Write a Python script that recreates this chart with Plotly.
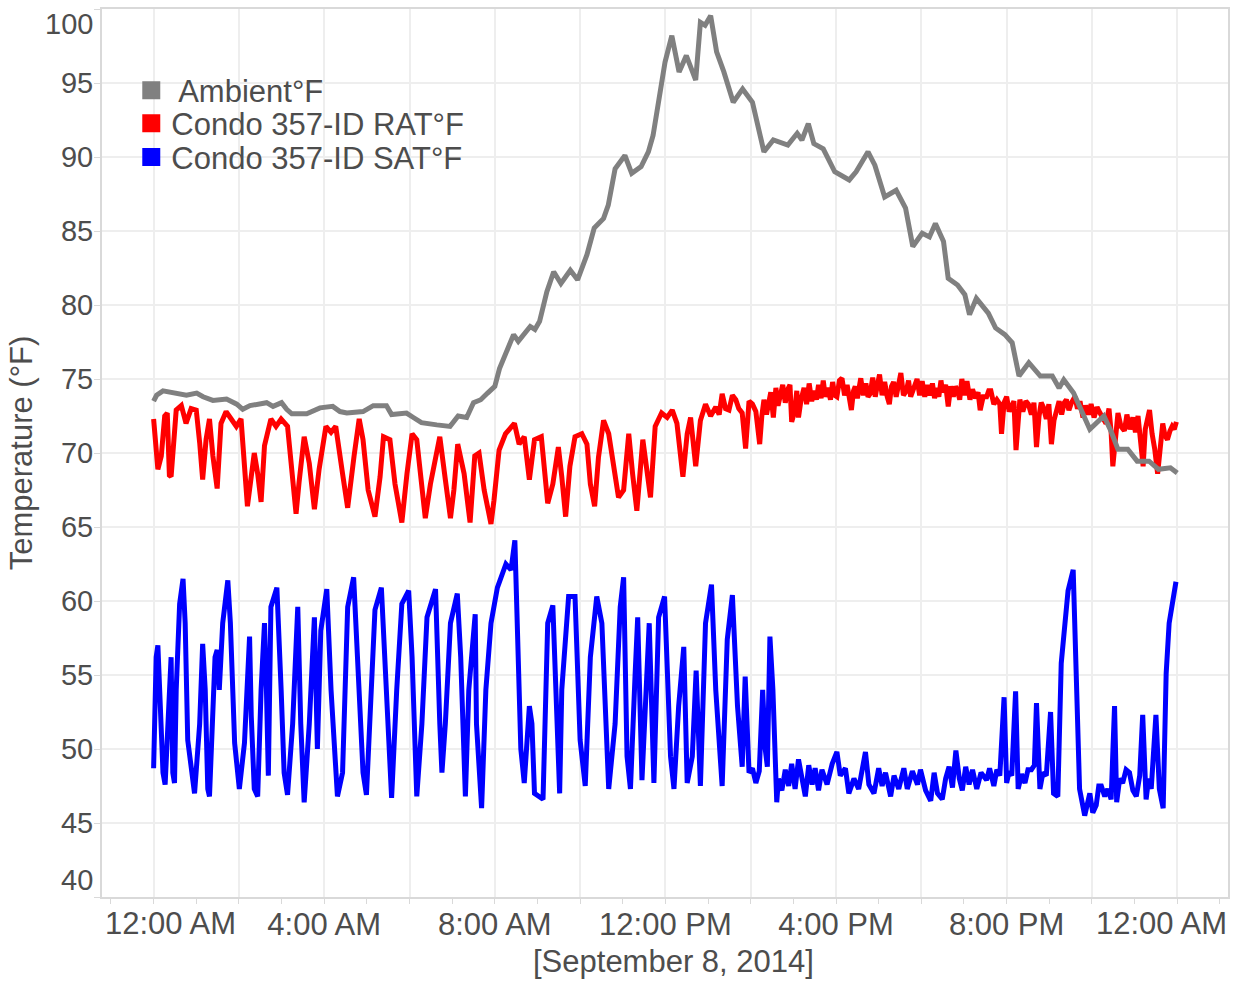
import pandas as pd
import plotly.graph_objects as go

# ---- Ambient temperature (hours after midnight, °F) ----
AMB_H = [0.0, 0.07, 0.22, 0.42, 0.57, 0.77, 1.01, 1.16, 1.39, 1.71, 1.95, 2.09, 2.26, 2.65, 2.8, 3.0,
         3.12, 3.24, 3.59, 3.9, 4.2, 4.37, 4.53, 4.91, 5.15, 5.46, 5.58, 5.93, 6.09, 6.28, 6.64, 6.95,
         7.14, 7.34, 7.5, 7.67, 7.83, 8.0, 8.11, 8.28, 8.44, 8.55, 8.83, 8.94, 9.05, 9.22, 9.38, 9.55,
         9.77, 9.94, 10.16, 10.33, 10.55, 10.66, 10.82, 11.05, 11.21, 11.43, 11.6, 11.71, 11.88, 11.99,
         12.15, 12.32, 12.49, 12.71, 12.82, 12.93, 13.06, 13.2, 13.37, 13.59, 13.81, 14.04, 14.31, 14.53,
         14.87, 15.09, 15.2, 15.35, 15.48, 15.7, 15.97, 16.31, 16.47, 16.75, 16.91, 17.14, 17.41, 17.63,
         17.8, 18.02, 18.19, 18.33, 18.52, 18.63, 18.85, 19.02, 19.13, 19.29, 19.57, 19.74, 19.96, 20.13,
         20.29, 20.52, 20.79, 21.07, 21.23, 21.34, 21.57, 21.79, 21.95, 22.28, 22.45, 22.61, 22.84, 23.06,
         23.34, 23.56, 23.84, 24.0]
AMB_V = [73.5, 73.9, 74.2, 74.1, 74.0, 73.9, 74.05, 73.8, 73.55, 73.65, 73.3, 72.95, 73.2, 73.4, 73.15, 73.4,
         72.95, 72.65, 72.65, 73.05, 73.15, 72.8, 72.7, 72.8, 73.2, 73.2, 72.6, 72.7, 72.4, 72.05, 71.9, 71.8,
         72.5, 72.4, 73.4, 73.6, 74.05, 74.5, 75.7, 76.9, 78.0, 77.55, 78.55, 78.35, 78.9, 80.9, 82.25, 81.45,
         82.35, 81.7, 83.4, 85.2, 85.85, 86.75, 89.2, 90.1, 88.9, 89.35, 90.35, 91.45, 94.2, 96.4,
         98.2, 95.75, 96.85, 95.2, 99.1, 98.9, 99.55, 97.1, 95.75, 93.7, 94.6, 93.7, 90.35, 91.15,
         90.8, 91.6, 91.15, 92.25, 90.9, 90.55, 89.0, 88.45, 89.0, 90.35, 89.45, 87.3, 87.75, 86.55,
         83.95, 84.85, 84.6, 85.5, 84.3, 81.8, 81.35, 80.7, 79.35, 80.45, 79.45, 78.45, 78.0, 77.45,
         75.2, 76.1, 75.2, 75.2, 74.4, 74.95, 74.05, 72.6, 71.6, 72.5, 71.45, 70.25, 70.25, 69.45,
         69.45, 68.9, 69.0, 68.65]

# ---- Return air temperature ----
RAT_H = [0.0, 0.06, 0.1, 0.18, 0.26, 0.32, 0.37, 0.41, 0.53, 0.65, 0.76, 0.88, 1.0, 1.08, 1.15, 1.23,
         1.31, 1.39, 1.49, 1.58, 1.7, 1.82, 1.94, 2.05, 2.13, 2.2, 2.28, 2.36, 2.44, 2.52, 2.6, 2.75,
         2.87, 2.99, 3.14, 3.26, 3.34, 3.41, 3.53, 3.65, 3.77, 3.88, 4.04, 4.16, 4.27, 4.43, 4.55, 4.7,
         4.82, 4.91, 5.03, 5.19, 5.31, 5.39, 5.54, 5.66, 5.82, 5.94, 6.06, 6.17, 6.29, 6.37, 6.49, 6.61,
         6.71, 6.84, 6.96, 7.04, 7.13, 7.28, 7.42, 7.53, 7.63, 7.75, 7.91, 7.98, 8.1, 8.25, 8.46, 8.57,
         8.69, 8.81, 8.93, 9.09, 9.24, 9.36, 9.49, 9.57, 9.66, 9.76, 9.88, 10.04, 10.16, 10.24, 10.34,
         10.43, 10.55, 10.67, 10.78, 10.9, 11.02, 11.14, 11.23, 11.33, 11.47, 11.57, 11.65, 11.76, 11.91,
         12.04, 12.16, 12.27, 12.41, 12.51, 12.59, 12.71, 12.82, 12.94, 13.06, 13.18, 13.26, 13.33, 13.41,
         13.49, 13.57, 13.65, 13.72, 13.8, 13.88, 13.96, 14.04, 14.12, 14.21, 14.26, 14.31, 14.37, 14.41,
         14.47, 14.53, 14.59, 14.64, 14.69, 14.75, 14.81, 14.87, 14.92, 14.96, 15.03, 15.08, 15.12, 15.18,
         15.25, 15.31, 15.37, 15.43, 15.49, 15.54, 15.59, 15.65, 15.7, 15.75, 15.81, 15.87, 15.92, 15.97,
         16.02, 16.08, 16.14, 16.2, 16.26, 16.31, 16.36, 16.41, 16.45, 16.5, 16.58, 16.64, 16.7, 16.75,
         16.8, 16.86, 16.92, 16.97, 17.02, 17.08, 17.14, 17.2, 17.25, 17.3, 17.35, 17.41, 17.47, 17.52,
         17.58, 17.65, 17.7, 17.75, 17.8, 17.85, 17.9, 17.96, 18.02, 18.08, 18.14, 18.2, 18.26, 18.31,
         18.35, 18.41, 18.46, 18.5, 18.57, 18.63, 18.69, 18.75, 18.8, 18.85, 18.9, 18.95, 19.01, 19.07,
         19.14, 19.2, 19.27, 19.33, 19.38, 19.45, 19.53, 19.58, 19.63, 19.7, 19.77, 19.84, 19.88, 19.94,
         20.0, 20.06, 20.12, 20.17, 20.22, 20.27, 20.31, 20.38, 20.45, 20.51, 20.58, 20.64, 20.7, 20.76,
         20.81, 20.86, 20.93, 20.99, 21.05, 21.11, 21.17, 21.23, 21.29, 21.35, 21.4, 21.46, 21.52, 21.6,
         21.66, 21.72, 21.79, 21.85, 21.92, 21.98, 22.05, 22.12, 22.19, 22.26, 22.33, 22.4, 22.45, 22.49,
         22.55, 22.61, 22.68, 22.76, 22.82, 22.89, 22.96, 23.02, 23.08, 23.11, 23.16, 23.2, 23.25, 23.3,
         23.35, 23.41, 23.47, 23.54, 23.6, 23.66, 23.71, 23.77, 23.83, 23.88, 23.93, 23.98]
RAT_V = [72.3, 69.8, 68.9, 69.8, 72.5, 72.7, 68.5, 68.4, 72.9, 73.2, 72.0, 73.0, 72.9, 70.7, 68.2, 70.9,
         72.3, 69.8, 67.6, 72.0, 72.8, 72.3, 71.8, 72.3, 68.6, 66.4, 68.2, 70.0, 68.6, 66.7, 70.5, 72.3,
         71.8, 72.3, 71.8, 68.6, 65.9, 68.0, 71.1, 69.3, 66.2, 68.9, 71.8, 71.4, 71.8, 68.6, 66.3, 69.8,
         72.3, 70.9, 67.5, 65.7, 68.4, 71.1, 70.9, 67.9, 65.3, 68.6, 71.3, 70.9, 67.3, 65.6, 67.9, 69.7,
         71.1, 68.2, 65.6, 67.5, 70.6, 68.6, 65.3, 69.8, 70.0, 67.5, 65.2, 66.8, 70.2, 71.3, 72.0, 70.6,
         71.1, 68.2, 70.9, 71.1, 66.6, 67.9, 70.4, 68.4, 65.7, 69.1, 71.1, 71.3, 70.6, 67.9, 66.4,
         69.7, 72.2, 71.3, 69.1, 67.0, 67.5, 71.3, 68.6, 66.1, 70.9, 68.8, 67.0, 71.8, 72.7,
         72.4, 72.9, 72.0, 68.4, 71.3, 72.4, 69.1, 72.2, 73.3, 72.5, 73.1, 72.6, 74.0, 73.0,
         72.9, 73.9, 73.6, 73.0, 72.7, 70.3, 73.5, 73.3, 72.8, 70.6, 72.5, 73.6, 72.6, 73.3,
         74.1, 72.4, 74.4, 73.2, 73.8, 74.6, 73.4, 74.3, 74.6, 72.1, 72.8, 74.2, 72.4, 73.6,
         74.4, 73.3, 74.7, 73.5, 74.2, 73.6, 74.6, 73.7, 74.9, 73.8, 74.4, 73.6, 74.8, 73.9,
         73.8, 74.9, 75.05, 73.9, 74.6, 73.6, 72.9, 74.2, 74.5, 73.7, 75.05, 73.9, 74.7, 73.8,
         74.0, 75.1, 73.8, 74.6, 75.3, 73.9, 74.8, 73.8, 73.3, 74.5, 74.8, 73.8, 74.9, 75.4,
         73.9, 74.2, 74.9, 73.8, 74.2, 74.7, 75.0, 73.9, 74.85, 73.8, 74.6, 73.9, 74.7, 73.7,
         74.4, 73.8, 74.9, 74.1, 74.6, 73.15, 74.5, 73.8, 74.5, 74.2, 73.6, 75.0, 73.9, 74.85,
         73.6, 74.3, 73.7, 74.1, 72.9, 73.8, 73.8, 74.2, 74.2, 73.3, 73.6, 73.3, 71.3, 73.4,
         73.8, 72.8, 73.1, 73.5, 70.2, 72.6, 73.6, 72.8, 73.5, 73.3, 72.6, 73.4, 70.4, 72.5,
         73.4, 73.1, 72.3, 73.3, 70.6, 72.2, 72.9, 73.5, 72.6, 73.4, 73.6, 72.9, 73.4, 73.8,
         73.0, 73.5, 72.4, 73.2, 72.6, 73.3, 72.4, 73.1, 72.7, 72.4, 72.0, 73.0, 71.4, 69.1,
         71.3, 72.7, 71.8, 71.5, 72.6, 71.6, 72.4, 71.4, 72.5, 71.8, 70.2, 69.1, 71.6, 72.4,
         72.9, 71.3, 70.3, 68.6, 70.8, 72.0, 71.2, 70.9, 71.5, 71.8, 71.6, 72.1]

# ---- Supply air temperature ----
SAT_H = [0.0, 0.06, 0.1, 0.16, 0.22, 0.27, 0.33, 0.37, 0.41, 0.45, 0.49, 0.53, 0.61, 0.69, 0.74, 0.8,
         0.96, 1.08, 1.15, 1.21, 1.27, 1.31, 1.39, 1.44, 1.49, 1.54, 1.62, 1.74, 1.8, 1.9, 2.01, 2.13,
         2.25, 2.29, 2.36, 2.44, 2.52, 2.6, 2.64, 2.69, 2.75, 2.89, 2.99, 3.06, 3.14, 3.26, 3.38, 3.45,
         3.53, 3.65, 3.77, 3.84, 3.92, 4.06, 4.16, 4.31, 4.43, 4.55, 4.69, 4.8, 4.91, 4.99, 5.07, 5.19,
         5.34, 5.43, 5.54, 5.58, 5.7, 5.82, 5.98, 6.06, 6.17, 6.29, 6.41, 6.61, 6.71, 6.76, 6.84, 6.96,
         7.12, 7.2, 7.31, 7.39, 7.54, 7.57, 7.69, 7.79, 7.91, 8.06, 8.26, 8.38, 8.47, 8.54, 8.61, 8.69,
         8.81, 8.87, 8.93, 9.13, 9.24, 9.36, 9.52, 9.57, 9.73, 9.88, 10.0, 10.12, 10.24, 10.39, 10.51,
         10.67, 10.82, 10.94, 11.02, 11.1, 11.18, 11.29, 11.35, 11.45, 11.55, 11.62, 11.73, 11.84, 11.98,
         12.12, 12.2, 12.31, 12.43, 12.51, 12.63, 12.72, 12.82, 12.94, 13.08, 13.18, 13.33, 13.45, 13.57,
         13.69, 13.8, 13.87, 13.96, 14.04, 14.12, 14.2, 14.28, 14.34, 14.39, 14.45, 14.52, 14.57, 14.61,
         14.65, 14.73, 14.81, 14.89, 14.96, 15.04, 15.12, 15.2, 15.28, 15.36, 15.44, 15.51, 15.59, 15.67,
         15.79, 15.91, 16.02, 16.1, 16.22, 16.3, 16.42, 16.53, 16.61, 16.69, 16.77, 16.89, 17.0, 17.08,
         17.16, 17.28, 17.36, 17.47, 17.59, 17.67, 17.79, 17.91, 17.98, 18.1, 18.22, 18.3, 18.38, 18.49,
         18.57, 18.65, 18.73, 18.81, 18.89, 18.96, 19.04, 19.12, 19.2, 19.3, 19.4, 19.53, 19.6, 19.7,
         19.77, 19.84, 19.94, 20.0, 20.06, 20.12, 20.21, 20.27, 20.35, 20.43, 20.5, 20.58, 20.65, 20.7,
         20.78, 20.85, 20.93, 21.03, 21.1, 21.2, 21.28, 21.36, 21.44, 21.56, 21.63, 21.71, 21.83, 21.9,
         21.95, 22.02, 22.1, 22.16, 22.22, 22.3, 22.37, 22.45, 22.53, 22.58, 22.65, 22.72, 22.8, 22.88,
         22.96, 23.04, 23.12, 23.19, 23.27, 23.33, 23.39, 23.5, 23.58, 23.67, 23.74, 23.81, 23.97]
SAT_V = [48.7, 56.2, 57.0, 51.7, 48.4, 47.6, 51.7, 54.9, 56.2, 48.4, 47.7, 54.0, 59.8, 61.5, 58.5, 50.6,
         47.0, 51.7, 57.1, 54.0, 47.3, 46.8, 52.9, 56.2, 56.7, 54.0, 58.5, 61.4, 58.5, 50.4, 47.3, 50.4,
         57.6, 52.2, 47.3, 46.8, 54.0, 58.5, 54.7, 48.2, 59.6, 60.9, 54.0, 48.4, 46.9, 51.7, 59.6, 51.7,
         46.4, 51.7, 58.9, 50.0, 58.0, 60.8, 54.0, 46.8, 48.4, 59.6, 61.6, 54.0, 48.4, 46.9, 51.7, 59.4,
         60.9, 55.1, 48.4, 46.7, 54.0, 59.8, 60.7, 56.2, 46.8, 51.7, 58.9, 60.8, 51.7, 48.4, 51.7, 58.5,
         60.5, 56.2, 46.8, 54.0, 59.1, 51.7, 46.0, 54.0, 58.5, 60.9, 62.5, 62.1, 64.1, 56.2, 50.0, 47.7,
         52.9, 51.7, 47.0, 46.6, 58.5, 59.7, 47.0, 54.0, 60.3, 60.3, 50.6, 47.5, 56.2, 60.3, 58.5,
         47.3, 51.7, 59.6, 61.6, 49.5, 47.3, 55.1, 58.9, 47.9, 54.0, 58.5, 47.7, 58.9, 60.3,
         49.5, 47.3, 52.9, 56.9, 47.7, 49.5, 55.3, 47.5, 58.5, 61.1, 54.0, 47.5, 57.4, 60.4,
         52.9, 48.8, 54.9, 48.4, 48.7, 47.7, 48.5, 54.0, 50.0, 48.8, 57.6, 54.0, 48.4, 46.4,
         48.0, 47.2, 48.6, 47.5, 49.0, 47.3, 49.3, 47.8, 46.8, 48.9, 47.6, 48.7, 47.2, 48.6,
         47.6, 49.0, 49.8, 48.2, 48.7, 47.0, 48.0, 47.3, 48.5, 49.8, 47.6, 47.0, 48.7, 47.5,
         48.4, 46.8, 48.2, 47.3, 48.7, 47.3, 48.5, 47.6, 48.6, 47.2, 46.5, 48.4, 47.0, 46.6,
         48.0, 48.8, 47.4, 49.9, 48.0, 47.2, 48.8, 47.6, 48.6, 47.3, 48.4, 47.9, 48.7, 47.5,
         48.6, 48.2, 53.5, 47.7, 48.5, 48.2, 53.9, 47.3, 48.3, 47.7, 48.6, 48.6, 48.9, 53.1,
         47.3, 48.4, 48.2, 52.5, 47.0, 46.8, 55.8, 58.5, 60.7, 62.1, 54.0, 47.3, 45.5, 46.5,
         47.0, 45.7, 46.2, 47.5, 47.5, 46.8, 47.3, 46.6, 52.9, 46.4, 48.0, 47.7, 48.6, 48.4,
         47.2, 46.8, 48.2, 52.3, 46.6, 48.0, 47.3, 52.3, 47.3, 46.0, 55.1, 58.5, 61.3]

DAY = pd.Timestamp("2014-09-08")
Y_TICKS = [40, 45, 50, 55, 60, 65, 70, 75, 80, 85, 90, 95, 100]
X_TICK_HOURS = [0, 2, 4, 6, 8, 10, 12, 14, 16, 18, 20, 22, 24]
X_TICK_TEXT = ["", "", "4:00 AM", "", "8:00 AM", "", "12:00 PM", "", "4:00 PM", "", "8:00 PM", "", ""]


def to_time(hours):
    return DAY + pd.to_timedelta(pd.Series(hours, dtype=float), unit="h")


FONT = "Liberation Sans, Arial, sans-serif"
TEXT = "#4d4d4d"
GRID = "#eeeeee"
AXIS = "#d9d9d9"

# (legend name, hours, values, colour, legend id, legend row centre in paper y)
SERIES = [
    ("Condo 357-ID SAT°F", SAT_H, SAT_V, "#0000ff", "legend3", 0.8328),
    ("Condo 357-ID RAT°F", RAT_H, RAT_V, "#ff0000", "legend2", 0.8710),
    (" Ambient°F", AMB_H, AMB_V, "#808080", "legend", 0.9081),
]

fig = go.Figure()
for name, h, v, color, _, _ in SERIES:
    fig.add_trace(go.Scatter(x=to_time(h), y=v, mode="lines", name=name, showlegend=False,
                             line=dict(color=color, width=5)))

legend_layout = {}
for name, _, _, color, leg, ypos in SERIES:
    fig.add_trace(go.Scatter(x=[None], y=[None], mode="markers", name=name, showlegend=True,
                             legend=leg,
                             marker=dict(symbol="square", size=16, color=color,
                                         line=dict(color=color, width=2))))
    legend_layout[leg] = dict(x=0.026, y=ypos, xanchor="left", yanchor="middle",
                              bgcolor="rgba(0,0,0,0)", itemsizing="trace",
                              font=dict(family=FONT, size=31, color=TEXT))

text_labels = [
    dict(x=to_time([0])[0], y=0, xref="x", yref="paper", text="12:00 AM", xshift=17, yshift=-26,
         xanchor="center", yanchor="middle", font=dict(family=FONT, size=31, color=TEXT)),
    dict(x=to_time([24])[0], y=0, xref="x", yref="paper", text="12:00 AM", xshift=-16, yshift=-26,
         xanchor="center", yanchor="middle", font=dict(family=FONT, size=31, color=TEXT)),
    dict(x=0, y=100, xref="paper", yref="y", text="100", xshift=-7, yshift=-15,
         xanchor="right", yanchor="middle", font=dict(family=FONT, size=29, color=TEXT)),
    dict(x=0, y=40, xref="paper", yref="y", text="40", xshift=-7, yshift=17,
         xanchor="right", yanchor="middle", font=dict(family=FONT, size=29, color=TEXT)),
    # x-axis title, set slightly right of the plot centre
    dict(x=0.5, y=0, xref="paper", yref="paper", text="[September 8, 2014]", xshift=8, yshift=-64,
         xanchor="center", yanchor="middle", font=dict(family=FONT, size=31, color=TEXT)),
]
for a in text_labels:
    a.update(showarrow=False)

fig.update_layout(
    width=1237, height=981,
    margin=dict(l=102, r=9, t=7, b=84),
    paper_bgcolor="white", plot_bgcolor="white",
    font=dict(family=FONT, color=TEXT, size=29),
    showlegend=True,
    annotations=text_labels,
    **legend_layout,
)

fig.update_xaxes(
    type="date",
    range=[DAY - pd.Timedelta(hours=1.21), DAY + pd.Timedelta(hours=25.19)],
    tickmode="array", tickvals=to_time(X_TICK_HOURS), ticktext=X_TICK_TEXT,
    ticks="outside", ticklen=5, tickcolor=AXIS, tickwidth=1,
    minor=dict(dtick=3600000, ticks="outside", ticklen=5, tickcolor=AXIS, showgrid=False),
    showgrid=True, gridcolor=GRID, gridwidth=2,
    showline=True, linecolor=AXIS, linewidth=2, mirror=True,
    zeroline=False, ticklabelstandoff=-6,
    tickfont=dict(family=FONT, size=31, color=TEXT),
)
fig.update_yaxes(
    range=[40, 100],
    tickmode="array", tickvals=Y_TICKS,
    ticktext=["" if t in (40, 100) else str(t) for t in Y_TICKS],
    ticks="outside", ticklen=6, tickcolor=AXIS, tickwidth=1,
    showgrid=True, gridcolor=GRID, gridwidth=2,
    showline=True, linecolor=AXIS, linewidth=2, mirror=True,
    zeroline=False, ticklabelstandoff=-5,
    tickfont=dict(family=FONT, size=29, color=TEXT),
    title=dict(text="Temperature (°F)", font=dict(family=FONT, size=31, color=TEXT), standoff=19),
)

fig.write_html("out.html")
